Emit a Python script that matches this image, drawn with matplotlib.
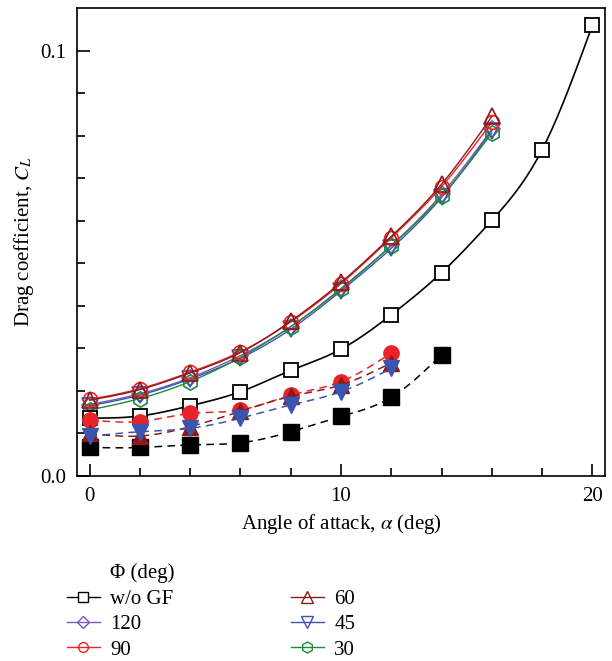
import numpy as np
import matplotlib
matplotlib.use("Agg")
import matplotlib.pyplot as plt
from matplotlib.lines import Line2D

plt.rcParams['font.family'] = 'Liberation Serif'
plt.rcParams['mathtext.fontset'] = 'stix'

# angle of attack
aoa_full = [0, 2, 4, 6, 8, 10, 12, 14, 16, 18, 20]
aoa_16 = [0, 2, 4, 6, 8, 10, 12, 14, 16]
aoa_12 = [0, 2, 4, 6, 8, 10, 12]
aoa_14 = [0, 2, 4, 6, 8, 10, 12, 14]

# open symbols, solid lines
cd_nogf = [0.0136, 0.0141, 0.0165, 0.0198, 0.0248, 0.0298, 0.0379, 0.0478, 0.0601, 0.0767, 0.1060]
cd_120 = [0.0168, 0.0193, 0.0231, 0.0283, 0.0351, 0.0441, 0.0542, 0.0662, 0.0815]
cd_90 = [0.0180, 0.0205, 0.0244, 0.0292, 0.0362, 0.0452, 0.0560, 0.0680, 0.0832]
cd_60 = [0.0178, 0.0203, 0.0242, 0.0290, 0.0364, 0.0455, 0.0563, 0.0686, 0.0845]
cd_45 = [0.0165, 0.0190, 0.0228, 0.0277, 0.0345, 0.0435, 0.0535, 0.0655, 0.0812]
cd_30 = [0.0155, 0.0182, 0.0222, 0.0279, 0.0351, 0.0439, 0.0541, 0.0657, 0.0806]

# filled symbols, dashed lines
cd_f_nogf = [0.0067, 0.0067, 0.0073, 0.0078, 0.0104, 0.0140, 0.0185, 0.0285]
cd_f_90 = [0.0132, 0.0128, 0.0147, 0.0155, 0.0190, 0.0222, 0.0289]
cd_f_60 = [0.0100, 0.0094, 0.0116, 0.0152, 0.0187, 0.0214, 0.0266]
cd_f_45 = [0.0093, 0.0104, 0.0112, 0.0136, 0.0167, 0.0198, 0.0253]


def spline(x, y, n=200):
    # natural cubic spline through the points
    x = np.asarray(x, float)
    y = np.asarray(y, float)
    k = len(x)
    h = np.diff(x)
    A = np.zeros((k, k))
    b = np.zeros(k)
    A[0, 0] = 1
    A[-1, -1] = 1
    for i in range(1, k - 1):
        A[i, i - 1] = h[i - 1]
        A[i, i] = 2 * (h[i - 1] + h[i])
        A[i, i + 1] = h[i]
        b[i] = 6 * ((y[i + 1] - y[i]) / h[i] - (y[i] - y[i - 1]) / h[i - 1])
    M = np.linalg.solve(A, b)
    xs = np.linspace(x[0], x[-1], n)
    idx = np.clip(np.searchsorted(x, xs) - 1, 0, k - 2)
    x0 = x[idx]
    x1 = x[idx + 1]
    hh = x1 - x0
    t0 = x1 - xs
    t1 = xs - x0
    ys = (M[idx] * t0 ** 3 + M[idx + 1] * t1 ** 3) / (6 * hh) \
        + (y[idx] / hh - M[idx] * hh / 6) * t0 \
        + (y[idx + 1] / hh - M[idx + 1] * hh / 6) * t1
    return xs, ys


fig = plt.figure(figsize=(6.12, 6.61), dpi=100)
ax = fig.add_axes([0.1258, 0.2799, 0.8628, 0.708])

c_purple = '#7b5bb5'
c_red = '#f02020'
c_dred = '#8b1a1a'
c_blue = '#3a55b0'
c_green = '#1e8a3c'

open_series = [
    (aoa_16, cd_120, c_purple, 'D', 8, '120'),
    (aoa_16, cd_45, c_blue, 'v', 11, '45'),
    (aoa_16, cd_30, c_green, 'h', 11, '30'),
    (aoa_16, cd_90, c_red, 'o', 10, '90'),
    (aoa_16, cd_60, c_dred, '^', 11, '60'),
]
for xs, ys, col, mk, ms, lab in open_series:
    sx, sy = spline(xs, ys)
    ax.plot(sx, sy, color=col, lw=1.0)
    ax.plot(xs, ys, ls='none', marker=mk, ms=ms, mfc='none', mec=col, mew=1.2)

sx, sy = spline(aoa_full, cd_nogf)
ax.plot(sx, sy, color='black', lw=1.2)
ax.plot(aoa_full, cd_nogf, ls='none', marker='s', ms=10, mfc='white', mec='black', mew=1.3)

filled_series = [
    (aoa_14, cd_f_nogf, 'black', 's', 11),
    (aoa_12, cd_f_90, '#e8232a', 'o', 11),
    (aoa_12, cd_f_60, c_dred, '^', 11),
    (aoa_12, cd_f_45, c_blue, 'v', 12),
]
for xs, ys, col, mk, ms in filled_series:
    sx, sy = spline(xs, ys)
    ax.plot(sx, sy, color=col, lw=1.1, dashes=(5, 3.5))
    ax.plot(xs, ys, ls='none', marker=mk, ms=ms, mfc=col, mec=col)

ax.set_xlim(-0.5, 20.5)
ax.set_ylim(0, 0.11)
ax.set_xticks([0, 10, 20])
ax.set_xticks(np.arange(0, 21, 2), minor=True)
ax.set_yticks([0.0, 0.1])
ax.set_yticklabels(['0.0', '0.1'])
ax.set_yticks(np.arange(0, 0.105, 0.01), minor=True)
ax.tick_params(which='both', direction='in', top=False, right=False, labelsize=15, width=1.2)
ax.tick_params(which='major', length=9, pad=8)
ax.tick_params(which='minor', length=6)
for s in ax.spines.values():
    s.set_linewidth(1.2)

ax.set_xlabel(r'Angle of attack, $\alpha$ (deg)', fontsize=15, labelpad=4)
ax.set_ylabel(r'Drag coefficient, $C_L$', fontsize=15, labelpad=3)

def h(col, mk, ms, fc='none'):
    return Line2D([], [], color=col, lw=1.0, marker=mk, ms=ms, mfc=fc, mec=col, mew=1.0)

blank = Line2D([], [], ls='none')
handles = [blank, h('black', 's', 7, 'white'), h(c_purple, 'D', 6), h(c_red, 'o', 7),
           blank, h(c_dred, '^', 8), h(c_blue, 'v', 8), h(c_green, 'h', 8)]
labels = ['Φ (deg)', 'w/o GF', '120', '90', ' ', '60', '45', '30']
fig.legend(handles, labels, loc='upper left', bbox_to_anchor=(0.092, 0.163),
           bbox_transform=fig.transFigure, ncol=2, frameon=False, fontsize=15,
           handlelength=1.6, handletextpad=0.5, columnspacing=5.55, labelspacing=0.28,
           borderpad=0.0)

fig.savefig('out.png', dpi=100)
